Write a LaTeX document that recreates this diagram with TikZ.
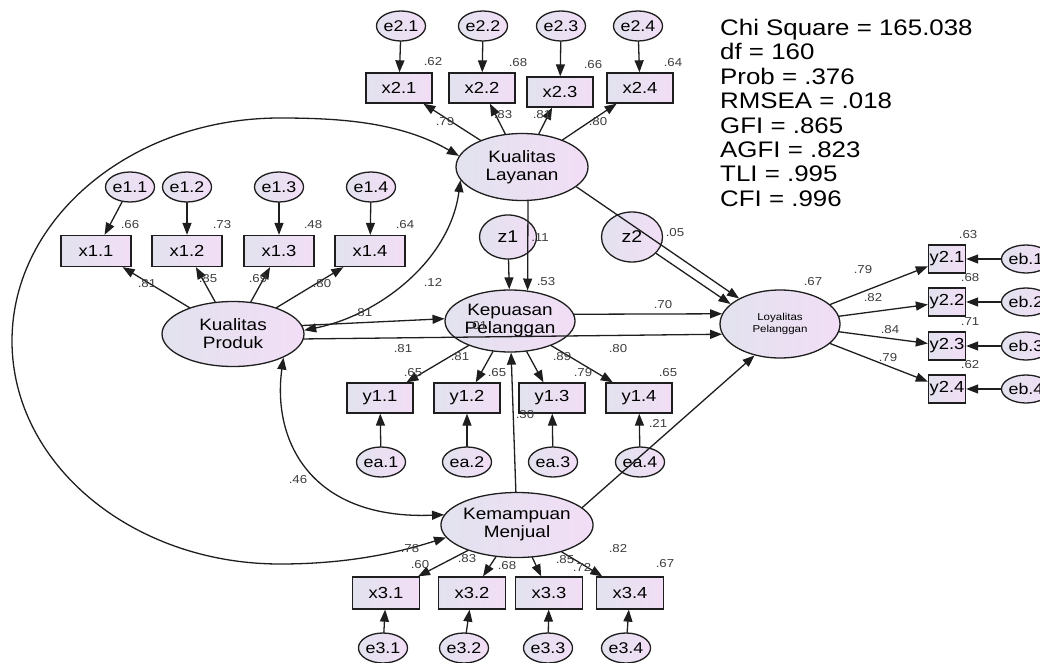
\documentclass[tikz,border=0pt]{standalone}
\usepackage{fontspec}
\setmainfont[FakeStretch=1.15]{Liberation Sans}
\usetikzlibrary{arrows.meta,shapes.geometric}
\definecolor{Lfill}{RGB}{226,226,238}
\definecolor{Rfill}{RGB}{242,222,246}
\definecolor{Edge}{RGB}{30,30,30}
\definecolor{Vtxt}{RGB}{60,60,60}

\begin{document}
\begin{tikzpicture}[x=1pt,y=-1pt,line cap=round,
  latent/.style={ellipse,draw=Edge,line width=1.3pt,left color=Lfill,right color=Rfill,minimum width=134pt,minimum height=65pt,inner sep=0pt,align=center,font=\fontsize{16.5}{18}\selectfont},
  obs/.style={rectangle,draw=Edge,line width=1.3pt,left color=Lfill,right color=Rfill,minimum width=66pt,minimum height=30pt,inner sep=0pt,font=\fontsize{16}{18}\selectfont},
  err/.style={ellipse,draw=Edge,line width=1.3pt,left color=Lfill,right color=Rfill,minimum width=39pt,minimum height=30pt,inner sep=0pt,font=\fontsize{15.5}{17}\selectfont},
  val/.style={inner sep=0pt,text=Vtxt,font=\fontsize{11.5}{13}\selectfont},
  reg/.style={line width=1.3pt,draw=Edge,-{Triangle[length=12pt,width=9pt]}},
  cov/.style={line width=1.3pt,draw=Edge,{Triangle[length=12pt,width=9pt]}-{Triangle[length=12pt,width=9pt]}}]
\path[use as bounding box] (0,0) rectangle (1040,663);
\node[latent,minimum width=132pt,minimum height=67pt] (kl) at (522,167) {Kualitas\\Layanan};
\node[latent,minimum width=142pt] (kp) at (233,334) {Kualitas\\Produk};
\node[latent,minimum width=130pt,minimum height=62pt] (kep) at (510,321) {Kepuasan\\Pelanggan};
\node[latent,minimum width=120pt,minimum height=68pt,font=\fontsize{10}{12}\selectfont] (loy) at (780,324) {Loyalitas\\Pelanggan};
\node[latent,minimum width=139pt] (km) at (517,525) {Kemampuan\\Menjual};
\node[err,minimum width=57pt,minimum height=44pt,font=\fontsize{17}{19}\selectfont] (z1) at (508,237) {z1};
\node[err,minimum width=61pt,minimum height=50pt,font=\fontsize{17}{19}\selectfont] (z2) at (632,237) {z2};
\node[obs] (x21) at (399,88) {x2.1};
\node[obs] (x22) at (482,88) {x2.2};
\node[obs] (x23) at (560,92) {x2.3};
\node[obs] (x24) at (640,88) {x2.4};
\node[err] (e21) at (401,26) {e2.1};
\node[err] (e22) at (483,26) {e2.2};
\node[err] (e23) at (561,26) {e2.3};
\node[err] (e24) at (638,26) {e2.4};
\node[obs,minimum width=70pt,minimum height=31pt] (x11) at (96,251) {x1.1};
\node[obs,minimum width=70pt,minimum height=31pt] (x12) at (187,251) {x1.2};
\node[obs,minimum width=70pt,minimum height=31pt] (x13) at (279,251) {x1.3};
\node[obs,minimum width=70pt,minimum height=31pt] (x14) at (370,251) {x1.4};
\node[err] (e11) at (130,187) {e1.1};
\node[err] (e12) at (187,187) {e1.2};
\node[err] (e13) at (279,187) {e1.3};
\node[err] (e14) at (371,187) {e1.4};
\node[obs] (y11) at (380,398) {y1.1};
\node[obs] (y12) at (467,398) {y1.2};
\node[obs] (y13) at (552,398) {y1.3};
\node[obs] (y14) at (639,398) {y1.4};
\node[err,minimum width=38pt] (ea1) at (381,462) {ea.1};
\node[err,minimum width=38pt] (ea2) at (467,462) {ea.2};
\node[err,minimum width=38pt] (ea3) at (553,462) {ea.3};
\node[err,minimum width=38pt] (ea4) at (640,462) {ea.4};
\node[obs,minimum width=67pt,minimum height=32pt] (x31) at (386,593) {x3.1};
\node[obs,minimum width=67pt,minimum height=32pt] (x32) at (472,593) {x3.2};
\node[obs,minimum width=67pt,minimum height=32pt] (x33) at (549,593) {x3.3};
\node[obs,minimum width=67pt,minimum height=32pt] (x34) at (630,593) {x3.4};
\node[err] (e31) at (383,648) {e3.1};
\node[err] (e32) at (464,648) {e3.2};
\node[err] (e33) at (548,648) {e3.3};
\node[err] (e34) at (626,648) {e3.4};
\node[obs,minimum width=37pt,minimum height=28pt] (y21) at (947,259) {y2.1};
\node[obs,minimum width=37pt,minimum height=28pt] (y22) at (947,302) {y2.2};
\node[obs,minimum width=37pt,minimum height=28pt] (y23) at (947,346) {y2.3};
\node[obs,minimum width=37pt,minimum height=28pt] (y24) at (947,389) {y2.4};
\node[err,minimum width=40pt,minimum height=28pt] (eb1) at (1026,259) {eb.1};
\node[err,minimum width=40pt,minimum height=28pt] (eb2) at (1026,302) {eb.2};
\node[err,minimum width=40pt,minimum height=28pt] (eb3) at (1026,346) {eb.3};
\node[err,minimum width=40pt,minimum height=28pt] (eb4) at (1026,389) {eb.4};
\draw[reg] (e21) -- (x21);
\draw[reg] (e22) -- (x22);
\draw[reg] (e23) -- (x23);
\draw[reg] (e24) -- (x24);
\draw[reg] (kl) -- (x21);
\draw[reg] (kl) -- (x22);
\draw[reg] (kl) -- (x23);
\draw[reg] (kl) -- (x24);
\draw[reg] (e11) -- (x11);
\draw[reg] (e12) -- (x12);
\draw[reg] (e13) -- (x13);
\draw[reg] (e14) -- (x14);
\draw[reg] (kp) -- (x11);
\draw[reg] (kp) -- (x12);
\draw[reg] (kp) -- (x13);
\draw[reg] (kp) -- (x14);
\draw[reg] (kep) -- (y11);
\draw[reg] (kep) -- (y12);
\draw[reg] (kep) -- (y13);
\draw[reg] (kep) -- (y14);
\draw[reg] (ea1) -- (y11);
\draw[reg] (ea2) -- (y12);
\draw[reg] (ea3) -- (y13);
\draw[reg] (ea4) -- (y14);
\draw[reg] (km) -- (x31);
\draw[reg] (km) -- (x32);
\draw[reg] (km) -- (x33);
\draw[reg] (km) -- (x34);
\draw[reg] (e31) -- (x31);
\draw[reg] (e32) -- (x32);
\draw[reg] (e33) -- (x33);
\draw[reg] (e34) -- (x34);
\draw[reg] (loy) -- (y21);
\draw[reg] (loy) -- (y22);
\draw[reg] (loy) -- (y23);
\draw[reg] (loy) -- (y24);
\draw[reg] (eb1) -- (y21);
\draw[reg] (eb2) -- (y22);
\draw[reg] (eb3) -- (y23);
\draw[reg] (eb4) -- (y24);
\draw[reg] (z1) -- (kep);
\draw[reg] (kl.-80) -- (kep.60);
\draw[reg] (z2) -- (loy.158);
\draw[reg] (kl.-20) -- (loy.148);
\draw[reg] (kp.7) -- (kep.178);
\draw[reg] (kp.-4) -- (loy.190);
\draw[reg] (kep.6) -- (loy.170);
\draw[reg] (km) -- (kep);
\draw[reg] (km.15) -- (loy.231);
\draw[cov] (kl.192) .. controls (450,260) and (380,315) .. (kp.3);
\draw[cov] (kp.-25) .. controls (272,440) and (310,520) .. (km.172);
\draw[cov] (kl.170) .. controls (400,122) and (340,118) .. (280,118) .. controls (132,118) and (12,218) .. (12,341) .. controls (12,464) and (132,564) .. (280,564) .. controls (350,564) and (400,552) .. (km.190);
\node[val] (r21) at (433,62) {.62};
\node[val] (r22) at (518,63) {.68};
\node[val] (r23) at (593,65) {.66};
\node[val] (r24) at (673,63) {.64};
\node[val] (l21) at (445,122) {.79};
\node[val] (l22) at (503,115) {.83};
\node[val] (l23) at (542,115) {.81};
\node[val] (l24) at (598,122) {.80};
\node[val] (r11) at (130,225) {.66};
\node[val] (r12) at (222,225) {.73};
\node[val] (r13) at (313,225) {.48};
\node[val] (r14) at (405,225) {.64};
\node[val] (l11) at (147,284) {.81};
\node[val] (l12) at (208,279) {.85};
\node[val] (l13) at (258,279) {.69};
\node[val] (l14) at (322,284) {.80};
\node[val] (c12) at (433,282) {.12};
\node[val] (b1) at (363,313) {.81};
\node[val] (c46) at (298,480) {.46};
\node[val] (rz1) at (540,238) {.11};
\node[val] (b2) at (546,282) {.53};
\node[val] (rz2) at (675,233) {.05};
\node[val] (b3) at (663,305) {.70};
\node[val] (b4) at (478,326) {.01};
\node[val] (rloy) at (813,282) {.67};
\node[val] (b5) at (525,415) {.30};
\node[val] (b6) at (658,423) {.21};
\node[val] (l31) at (403,349) {.81};
\node[val] (r31) at (413,373) {.65};
\node[val] (l32) at (460,357) {.81};
\node[val] (r32) at (497,373) {.65};
\node[val] (l33) at (562,357) {.89};
\node[val] (r33) at (583,373) {.79};
\node[val] (l34) at (618,349) {.80};
\node[val] (r34) at (668,373) {.65};
\node[val] (l41) at (863,270) {.79};
\node[val] (l42) at (873,298) {.82};
\node[val] (l43) at (890,330) {.84};
\node[val] (l44) at (888,358) {.79};
\node[val] (r41) at (968,235) {.63};
\node[val] (r42) at (970,278) {.68};
\node[val] (r43) at (970,322) {.71};
\node[val] (r44) at (970,365) {.62};
\node[val] (l51) at (410,549) {.78};
\node[val] (r51) at (420,565) {.60};
\node[val] (l52) at (467,559) {.83};
\node[val] (r52) at (507,566) {.68};
\node[val] (l53) at (565,560) {.85};
\node[val] (r53) at (582,567) {.72};
\node[val] (l54) at (618,549) {.82};
\node[val] (r54) at (665,564) {.67};
\node[anchor=north west,inner sep=0pt,align=left,font=\fontsize{22.5}{24.4}\selectfont] (fit) at (720,19) {Chi Square = 165.038\\df = 160\\Prob = .376\\RMSEA = .018\\GFI = .865\\AGFI = .823\\TLI = .995\\CFI = .996};
\end{tikzpicture}
\end{document}
